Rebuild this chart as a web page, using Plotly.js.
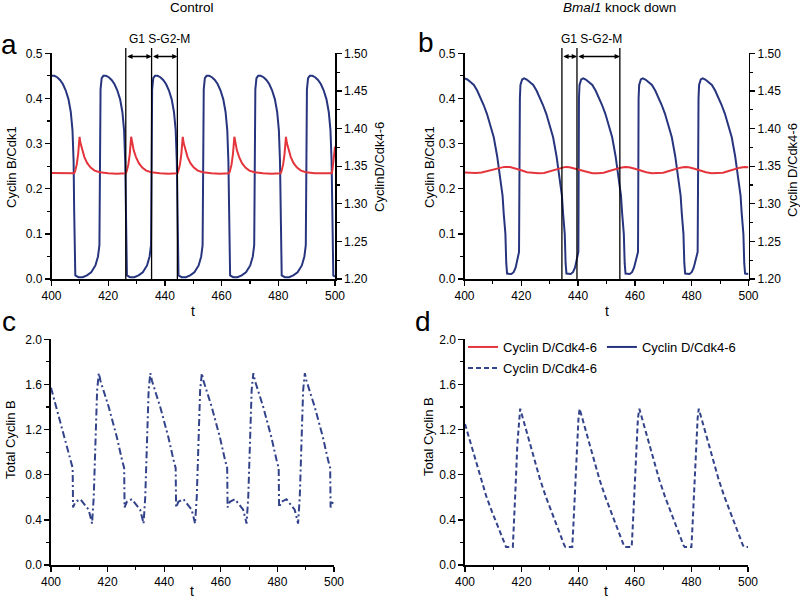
<!DOCTYPE html>
<html><head><meta charset="utf-8">
<script src="https://cdn.plot.ly/plotly-3.0.1.min.js"></script>
<style>html,body{margin:0;padding:0;background:#fff}#chart{width:800px;height:602px}</style>
</head><body><div id="chart"></div>
<script>
// ---- Panel a (Control): Cyclin B/Cdk1 (left axis)
const tA_B = [400.0,401.0,402.0,403.0,404.0,405.0,406.0,406.8,407.4,407.8,408.0,408.15,408.4,409.5,411.0,412.5,414.0,415.5,416.4,416.9,417.1,417.3,417.7,418.3,
419.2,420.2,421.2,422.2,423.2,424.2,425.0,425.6,426.0,426.2,426.35,426.6,427.7,429.2,430.7,432.2,433.7,434.6,435.1,435.3,435.5,435.9,436.5,
437.4,438.4,439.4,440.4,441.4,442.4,443.2,443.8,444.2,444.4,444.55,444.8,445.9,447.4,448.9,450.4,451.9,452.8,453.3,453.5,453.7,454.1,454.7,
455.6,456.6,457.6,458.6,459.6,460.6,461.4,462.0,462.4,462.6,462.75,463.0,464.1,465.6,467.1,468.6,470.1,471.0,471.5,471.7,471.9,472.3,472.9,
473.8,474.8,475.8,476.8,477.8,478.8,479.6,480.2,480.6,480.8,480.95,481.2,482.3,483.8,485.3,486.8,488.3,489.2,489.7,489.9,490.1,490.5,491.1,
492.0,493.0,494.0,495.0,496.0,497.0,497.8,498.4,498.8,499.0,499.15,499.4,500.0];
const cycBCdk1_ctrl = [0.450,0.450,0.447,0.441,0.432,0.418,0.398,0.370,0.330,0.260,0.150,0.030,0.008,0.004,0.004,0.008,0.015,0.030,0.050,0.075,0.250,0.420,0.445,0.450,
0.450,0.447,0.441,0.432,0.418,0.398,0.370,0.330,0.260,0.150,0.030,0.008,0.004,0.004,0.008,0.015,0.030,0.050,0.075,0.250,0.420,0.445,0.450,
0.450,0.447,0.441,0.432,0.418,0.398,0.370,0.330,0.260,0.150,0.030,0.008,0.004,0.004,0.008,0.015,0.030,0.050,0.075,0.250,0.420,0.445,0.450,
0.450,0.447,0.441,0.432,0.418,0.398,0.370,0.330,0.260,0.150,0.030,0.008,0.004,0.004,0.008,0.015,0.030,0.050,0.075,0.250,0.420,0.445,0.450,
0.450,0.447,0.441,0.432,0.418,0.398,0.370,0.330,0.260,0.150,0.030,0.008,0.004,0.004,0.008,0.015,0.030,0.050,0.075,0.250,0.420,0.445,0.450,
0.450,0.447,0.441,0.432,0.418,0.398,0.370,0.330,0.260,0.150,0.030,0.008,0.005];

// ---- Panel a (Control): Cyclin D/Cdk4-6 (right axis)
const tA_D = [400,404,408.0,408.3,408.9,409.4,409.9,410.2,410.8,411.6,412.6,413.8,415.2,417.0,420.0,423.0,
426.2,426.5,427.1,427.6,428.1,428.4,429.0,429.8,430.8,432.0,433.4,435.2,438.2,441.2,
444.4,444.7,445.3,445.8,446.3,446.6,447.2,448.0,449.0,450.2,451.6,453.4,456.4,459.4,
462.6,462.9,463.5,464.0,464.5,464.8,465.4,466.2,467.2,468.4,469.8,471.6,474.6,477.6,
480.8,481.1,481.7,482.2,482.7,483.0,483.6,484.4,485.4,486.6,488.0,489.8,492.8,495.8,
498.8,499.1,499.6,500.0];
const cycDCdk46_ctrl = [1.341,1.3405,1.3405,1.343,1.352,1.366,1.389,1.381,1.371,1.362,1.354,1.348,1.344,1.342,1.3405,1.340,
1.3405,1.343,1.352,1.366,1.389,1.381,1.371,1.362,1.354,1.348,1.344,1.342,1.3405,1.340,
1.3405,1.343,1.352,1.366,1.389,1.381,1.371,1.362,1.354,1.348,1.344,1.342,1.3405,1.340,
1.3405,1.343,1.352,1.366,1.389,1.381,1.371,1.362,1.354,1.348,1.344,1.342,1.3405,1.340,
1.3405,1.343,1.352,1.366,1.389,1.381,1.371,1.362,1.354,1.348,1.344,1.342,1.3405,1.340,
1.3405,1.345,1.360,1.376];

// ---- Panel b (Bmal1 knock down): Cyclin B/Cdk1 (left axis)
const tB_B = [400.0,401.0,402.0,403.3,404.5,405.6,406.7,407.9,409.1,410.3,411.5,412.6,413.4,413.8,414.4,414.7,415.0,416.5,417.3,418.0,418.8,419.2,
419.5,419.7,420.3,421.0,421.9,422.9,424.2,425.4,426.5,427.6,428.8,430.0,431.2,432.4,433.5,434.3,434.7,435.3,435.6,435.9,437.4,438.2,438.9,439.7,440.1,
440.3,440.5,441.1,441.8,442.7,443.7,445.0,446.2,447.3,448.4,449.6,450.8,452.0,453.2,454.3,455.1,455.5,456.1,456.4,456.7,458.2,459.0,459.7,460.5,461.1,
461.3,461.5,462.1,462.8,463.7,464.7,466.0,467.2,468.3,469.4,470.6,471.8,473.0,474.2,475.3,476.1,476.5,477.1,477.4,477.7,479.2,480.0,480.7,481.5,482.1,
482.4,482.6,483.2,483.9,484.8,485.8,487.1,488.3,489.4,490.5,491.7,492.9,494.1,495.3,496.4,497.2,497.6,498.2,498.5,498.8,500.0];
const cycBCdk1_kd = [0.4445,0.442,0.437,0.430,0.417,0.403,0.386,0.366,0.342,0.314,0.272,0.219,0.185,0.146,0.100,0.035,0.012,0.011,0.015,0.025,0.045,0.060,
0.400,0.430,0.442,0.4446,0.442,0.437,0.430,0.417,0.403,0.386,0.366,0.342,0.314,0.272,0.219,0.185,0.146,0.100,0.035,0.012,0.011,0.015,0.025,0.045,0.060,
0.400,0.430,0.442,0.4446,0.442,0.437,0.430,0.417,0.403,0.386,0.366,0.342,0.314,0.272,0.219,0.185,0.146,0.100,0.035,0.012,0.011,0.015,0.025,0.045,0.060,
0.400,0.430,0.442,0.4446,0.442,0.437,0.430,0.417,0.403,0.386,0.366,0.342,0.314,0.272,0.219,0.185,0.146,0.100,0.035,0.012,0.011,0.015,0.025,0.045,0.060,
0.400,0.430,0.442,0.4446,0.442,0.437,0.430,0.417,0.403,0.386,0.366,0.342,0.314,0.272,0.219,0.185,0.146,0.100,0.035,0.012,0.011];

// ---- Panel b (Bmal1 knock down): Cyclin D/Cdk4-6 (right axis)
const tB_D = [400,402,404,406,408,410,412,414,416,418,420,422,424,426,428,430,432,434,435.5,437,439,441,443,445,447,449,451,453,455,456.5,458,460,462,464,466,468,470,472,474,476,477.5,479,481,483,485,487,489,491,493,495,497,498.5,500];
const cycDCdk46_kd = [1.3415,1.341,1.3408,1.3415,1.3435,1.346,1.348,1.349,1.3488,1.347,1.3445,1.342,1.3408,1.3405,1.341,1.343,1.3458,1.348,1.349,1.3485,1.3465,1.344,1.3418,1.3407,1.3405,1.3412,1.3435,1.346,1.348,1.349,1.3485,1.3465,1.344,1.342,1.3407,1.3405,1.3412,1.3435,1.346,1.348,1.349,1.3485,1.3465,1.344,1.342,1.3407,1.3405,1.3412,1.3435,1.346,1.348,1.349,1.3487];

// ---- Panel c (Control): Total Cyclin B
const tC = [400.0,402.0,404.0,406.0,407.5,407.65,407.8,408.6,410.4,412.2,413.3,414.2,414.5,415.1,415.7,416.3,416.9,417.5,420.4,423.3,425.1,425.6,425.85,
426.0,426.8,428.6,430.4,431.5,432.4,432.7,433.3,433.9,434.5,435.1,435.7,438.6,441.5,443.3,443.8,444.05,
444.2,445.0,446.8,448.6,449.7,450.6,450.9,451.5,452.1,452.7,453.3,453.9,456.8,459.7,461.5,462.0,462.25,
462.4,463.2,465.0,466.8,467.9,468.8,469.1,469.7,470.3,470.9,471.5,472.1,475.0,477.9,479.7,480.2,480.45,
480.6,481.4,483.2,485.0,486.1,487.0,487.3,487.9,488.5,489.1,489.7,490.3,493.2,496.1,497.9,498.4,498.65,
498.8,499.6,500.0];
const totalCycB_ctrl = [1.57,1.38,1.19,1.01,0.88,0.86,0.51,0.56,0.583,0.53,0.49,0.40,0.367,0.60,1.10,1.55,1.70,1.63,1.40,1.13,0.93,0.87,0.86,
0.51,0.56,0.583,0.53,0.49,0.40,0.367,0.60,1.10,1.55,1.70,1.63,1.40,1.13,0.93,0.87,0.86,
0.51,0.56,0.583,0.53,0.49,0.40,0.367,0.60,1.10,1.55,1.70,1.63,1.40,1.13,0.93,0.87,0.86,
0.51,0.56,0.583,0.53,0.49,0.40,0.367,0.60,1.10,1.55,1.70,1.63,1.40,1.13,0.93,0.87,0.86,
0.51,0.56,0.583,0.53,0.49,0.40,0.367,0.60,1.10,1.55,1.70,1.63,1.40,1.13,0.93,0.87,0.86,
0.51,0.56,0.565];

// ---- Panel d (Bmal1 knock down): Total Cyclin B
const tD = [400.0,401.5,403.5,405.5,407.5,409.5,411.5,412.6,413.5,414.1,414.5,416.9,417.3,417.8,418.5,419.1,
419.5,420.0,421.0,422.5,424.5,426.5,428.5,430.5,432.5,433.6,434.5,435.1,435.5,437.9,438.3,438.8,439.5,440.1,
440.5,441.0,442.0,443.5,445.5,447.5,449.5,451.5,453.5,454.6,455.5,456.1,456.5,458.9,459.3,459.8,460.5,461.1,
461.6,462.1,463.1,464.6,466.6,468.6,470.6,472.6,474.6,475.7,476.6,477.2,477.6,480.0,480.4,480.9,481.6,482.2,
482.6,483.1,484.1,485.6,487.6,489.6,491.6,493.6,495.6,496.7,497.6,498.2,498.6,500.0];
const totalCycB_kd = [1.25,1.12,0.94,0.76,0.61,0.475,0.345,0.28,0.21,0.175,0.16,0.16,0.35,0.65,1.07,1.30,
1.385,1.34,1.25,1.12,0.94,0.76,0.61,0.475,0.345,0.28,0.21,0.175,0.16,0.16,0.35,0.65,1.07,1.30,
1.385,1.34,1.25,1.12,0.94,0.76,0.61,0.475,0.345,0.28,0.21,0.175,0.16,0.16,0.35,0.65,1.07,1.30,
1.385,1.34,1.25,1.12,0.94,0.76,0.61,0.475,0.345,0.28,0.21,0.175,0.16,0.16,0.35,0.65,1.07,1.30,
1.385,1.34,1.25,1.12,0.94,0.76,0.61,0.475,0.345,0.28,0.21,0.175,0.16,0.16];

// ---- Phase markers (G1 | S-G2-M) and text
const phaseLines_ctrl = [426.2, 435.3, 444.4];
const phaseLines_kd = [434.3, 439.6, 454.7];
const phaseLabel = 'G1 S-G2-M';
const legendName = 'Cyclin D/Cdk4-6';

const FONT = 'Liberation Sans, Arial, sans-serif';
const BLUE = '#27357f', RED = '#e4353c', DBLUE = '#33438a';

const W = 800, H = 602;
const px = v => v / W, py = v => 1 - v / H;
const domAB = [py(279), py(53.3)], domCD = [py(565), py(339.3)];

function xAx(dom, anchor) {
  return {domain: dom, anchor: anchor, range: [400, 500], dtick: 20, tick0: 400, ticks: 'outside', ticklen: 5,
    tickwidth: 1.3, tickcolor: '#000', showline: true, linecolor: '#000', linewidth: 1.6, showgrid: false, zeroline: false,
    tickfont: {family: FONT, size: 12, color: '#000'},
    minor: {dtick: 10, ticks: 'outside', ticklen: 3, tickwidth: 1.1, tickcolor: '#000', showgrid: false}, fixedrange: true};
}
function yAx(dom, anchor, range, dtick, fmt, side, overlay) {
  const o = {domain: dom, anchor: anchor, range: range, dtick: dtick, tick0: range[0], tickformat: fmt, ticks: 'outside', ticklen: 5,
    tickwidth: 1.3, tickcolor: '#000', showline: true, linecolor: '#000', linewidth: 1.6, showgrid: false, zeroline: false,
    tickfont: {family: FONT, size: 12, color: '#000'},
    minor: {dtick: dtick / 2, ticks: 'outside', ticklen: 3, tickwidth: 1.1, tickcolor: '#000', showgrid: false}, fixedrange: true};
  if (side) o.side = side;
  if (overlay) o.overlaying = overlay;
  return o;
}

const data = [
  {x: tA_B, y: cycBCdk1_ctrl, xaxis: 'x', yaxis: 'y', mode: 'lines', line: {color: BLUE, width: 2}, showlegend: false, name: 'Cyclin B/Cdk1'},
  {x: tA_D, y: cycDCdk46_ctrl, xaxis: 'x', yaxis: 'y2', mode: 'lines', line: {color: RED, width: 2}, showlegend: false, name: 'Cyclin D/Cdk4-6'},
  {x: tB_D, y: cycDCdk46_kd, xaxis: 'x2', yaxis: 'y4', mode: 'lines', line: {color: RED, width: 2}, showlegend: true, legend: 'legend', name: legendName},
  {x: tB_B, y: cycBCdk1_kd, xaxis: 'x2', yaxis: 'y3', mode: 'lines', line: {color: BLUE, width: 2}, showlegend: true, legend: 'legend', name: legendName},
  {x: tC, y: totalCycB_ctrl, xaxis: 'x3', yaxis: 'y5', mode: 'lines', line: {color: DBLUE, width: 2, dash: '7px,3px,2px,3px'}, showlegend: false, name: 'Total Cyclin B'},
  {x: tD, y: totalCycB_kd, xaxis: 'x4', yaxis: 'y6', mode: 'lines', line: {color: DBLUE, width: 2, dash: '5px,3px'}, showlegend: true, legend: 'legend2', name: legendName}
];

const shapes = [];
const annotations = [];
function phase(lines, xref, textX) {
  lines.forEach(v => shapes.push({type: 'line', xref: xref, yref: 'paper', x0: v, x1: v, y0: domAB[0], y1: py(48),
    line: {color: '#000', width: 1.3}}));
  for (let i = 0; i < lines.length - 1; i++) {
    annotations.push({xref: xref, yref: 'paper', x: lines[i + 1], y: py(56.5), axref: xref, ax: lines[i], ayref: 'pixel', ay: 0,
      text: '', showarrow: true, arrowside: 'end+start', arrowhead: 2, startarrowhead: 2, arrowsize: 0.8, startarrowsize: 0.8,
      arrowwidth: 1.3, arrowcolor: '#000', standoff: 0, startstandoff: 0});
  }
  annotations.push({xref: 'paper', yref: 'paper', x: px(textX), y: py(38.5), text: phaseLabel, showarrow: false,
    font: {family: FONT, size: 12, color: '#000'}, xanchor: 'center', yanchor: 'middle'});
}
phase(phaseLines_ctrl, 'x', 159);
phase(phaseLines_kd, 'x2', 591);

function txt(text, x, y, size, angle, extra) {
  annotations.push(Object.assign({xref: 'paper', yref: 'paper', x: px(x), y: py(y), text: text, showarrow: false,
    textangle: angle || 0, font: {family: FONT, size: size, color: '#000'}, xanchor: 'center', yanchor: 'middle'}, extra || {}));
}
txt('Control', 192, 8, 13.5);
txt('<i>Bmal1</i> knock down', 619, 8, 13.5);
txt('a', 9, 44, 28);
txt('b', 426, 42, 28);
txt('c', 9, 322, 28);
txt('d', 423, 321, 28);
txt('t', 193, 311, 14);
txt('t', 607, 311, 14);
txt('t', 192, 591, 14);
txt('t', 606, 591, 14);
txt('Cyclin B/Cdk1', 11, 167, 13, -90);
txt('CyclinD/Cdk4-6', 379, 167, 13, -90);
txt('Cyclin B/Cdk1', 429, 167, 13, -90);
txt('Cyclin D/Cdk4-6', 793, 170, 13, -90);
txt('Total Cyclin B', 10, 440, 13, -90);
txt('Total Cyclin B', 428, 437, 13, -90);

const layout = {
  width: W, height: H, margin: {l: 0, r: 0, t: 0, b: 0}, paper_bgcolor: '#fff', plot_bgcolor: 'rgba(0,0,0,0)',
  font: {family: FONT, size: 12, color: '#000'},
  xaxis: xAx([px(51.5), px(335)], 'y'),
  yaxis: yAx(domAB, 'x', [0, 0.5], 0.1, '.1f'),
  yaxis2: yAx(domAB, 'x', [1.2, 1.5], 0.05, '.2f', 'right', 'y'),
  xaxis2: xAx([px(464.5), px(748.5)], 'y3'),
  yaxis3: yAx(domAB, 'x2', [0, 0.5], 0.1, '.1f'),
  yaxis4: yAx(domAB, 'x2', [1.2, 1.5], 0.05, '.2f', 'right', 'y3'),
  xaxis3: xAx([px(51), px(334)], 'y5'),
  yaxis5: yAx(domCD, 'x3', [0, 2], 0.4, '.1f'),
  xaxis4: xAx([px(465), px(748)], 'y6'),
  yaxis6: yAx(domCD, 'x4', [0, 2], 0.4, '.1f'),
  legend: {orientation: 'h', x: px(463), xanchor: 'left', y: py(332), yanchor: 'top', bgcolor: 'rgba(0,0,0,0)',
    font: {family: FONT, size: 13, color: '#000'}, borderwidth: 0, traceorder: 'normal'},
  legend2: {orientation: 'h', x: px(463), xanchor: 'left', y: py(353), yanchor: 'top', bgcolor: 'rgba(0,0,0,0)',
    font: {family: FONT, size: 13, color: '#000'}, borderwidth: 0},
  shapes: shapes,
  annotations: annotations
};

Plotly.newPlot('chart', data, layout, {staticPlot: true, displayModeBar: false});
</script>
</body></html>
